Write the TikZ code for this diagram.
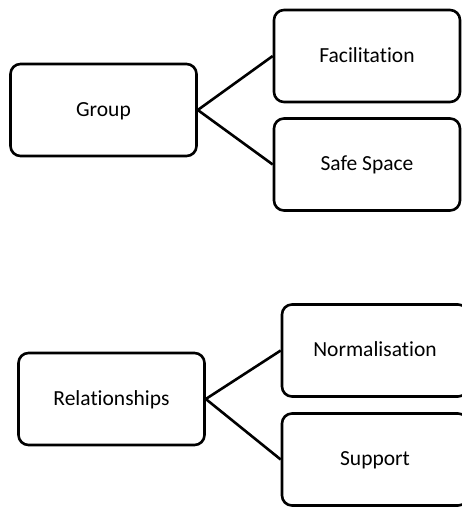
\documentclass[tikz,border=0pt]{standalone}
\usepackage{fontspec}
\setmainfont[Ligatures=NoCommon]{Carlito}
\begin{document}
\begin{tikzpicture}[x=1pt,y=1pt,
  box/.style={draw=black, line width=2.6pt, rounded corners=10pt, fill=white,
    minimum width=186pt, minimum height=92pt, inner sep=0pt,
    text height=14pt, text depth=2pt,
    font=\fontsize{21.5}{25}\selectfont},
  link/.style={draw=black, line width=2.6pt}]
\useasboundingbox (0,0) rectangle (462,-507);
\clip (0,0) rectangle (462,-507);
\fill[white] (0,0) rectangle (462,-507);
\node[box] (group) at (103.5,-110) {Group};
\node[box] (facil) at (367,-56) {Facilitation};
\node[box] (safe) at (367,-164.5) {Safe Space};
\node[box] (rel) at (111.5,-399) {Relationships};
\node[box] (norm) at (375,-350.5) {Normalisation};
\node[box] (supp) at (375,-459.5) {Support};
\draw[link] (group.east) -- (facil.west);
\draw[link] (group.east) -- (safe.west);
\draw[link] (rel.east) -- (norm.west);
\draw[link] (rel.east) -- (supp.west);
\end{tikzpicture}
\end{document}
